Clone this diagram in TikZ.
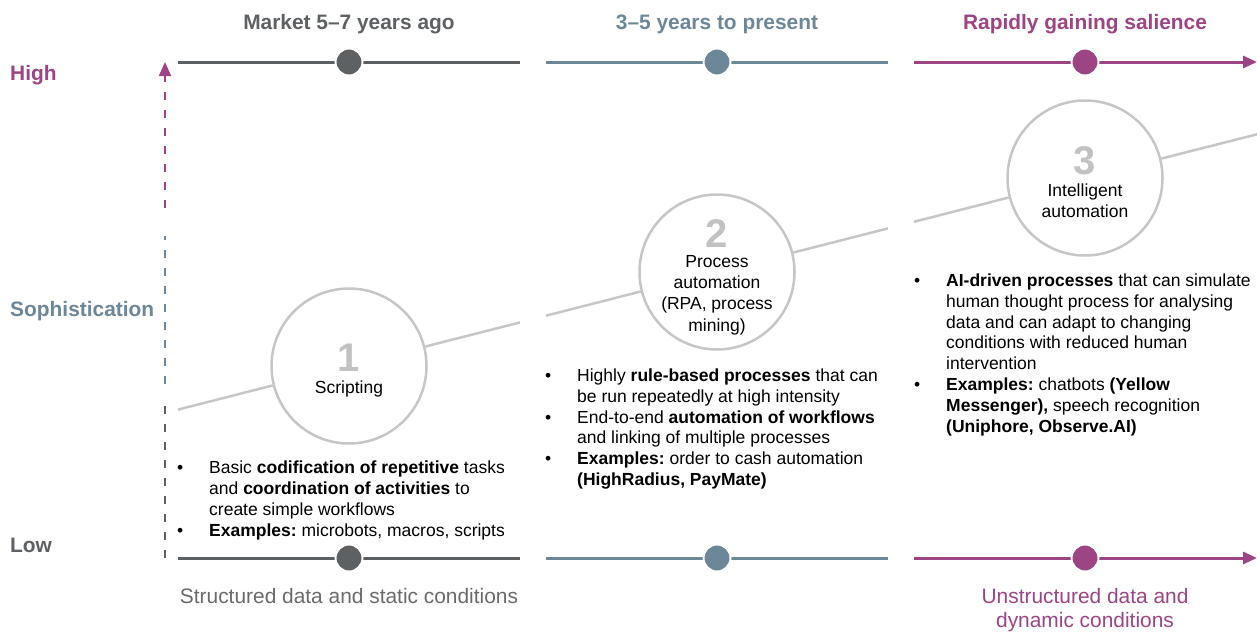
\documentclass[tikz,border=0pt]{standalone}
\usepackage{fontspec}
\setmainfont{Liberation Sans}
\usetikzlibrary{arrows.meta}
\frenchspacing

\definecolor{mgray}{HTML}{5E6163}
\definecolor{mblue}{HTML}{6C8798}
\definecolor{mpurple}{HTML}{9D4485}
\definecolor{lgray}{HTML}{C6C6C6}
\definecolor{ngray}{HTML}{C2C2C2}
\definecolor{tgray}{HTML}{6A6A6A}

\begin{document}
\begin{tikzpicture}[x=1pt,y=-1pt,
  header/.style={font=\fontsize{20.9}{24}\selectfont\bfseries, anchor=base, inner sep=0},
  axislbl/.style={font=\fontsize{20.9}{24}\selectfont\bfseries, anchor=base west, inner sep=0},
  foot/.style={font=\fontsize{20.9}{24}\selectfont, anchor=base, inner sep=0, align=center},
  track/.style={line width=3pt},
  tdot/.style={circle, minimum size=27pt, inner sep=0, draw=white, line width=2pt},
  vaxis/.style={line width=2pt, dash pattern=on 8pt off 10pt},
  tip/.style={-{Triangle[length=14pt,width=12pt]}},
  stage/.style={circle, draw=lgray, line width=2.5pt, minimum size=155pt, inner sep=0},
  ramp/.style={draw=lgray, line width=2.5pt},
  num/.style={font=\fontsize{40}{42}\selectfont\bfseries, text=ngray, anchor=base, inner sep=0},
  stagetxt/.style={font=\fontsize{17.5}{21.3}\selectfont, align=center, inner sep=0},
  bullets/.style={font=\fontsize{17.5}{20.8}\selectfont, anchor=north west, inner sep=0},
]
\useasboundingbox (0,0) rectangle (1257,632);

% column headings
\node[header, text=mgray]   (h1) at (349,29.5)  {Market 5–7 years ago};
\node[header, text=mblue]   (h2) at (717,29.5)  {3–5 years to present};
\node[header, text=mpurple] (h3) at (1085,29.5) {Rapidly gaining salience};

% sophistication scale labels
\node[axislbl, text=mpurple] (hi)  at (10,80.5)  {High};
\node[axislbl, text=mblue]   (mid) at (10,316.5) {Sophistication};
\node[axislbl, text=mgray]   (lo)  at (10,552.5) {Low};

% vertical dashed axis in three tones
\coordinate (v0) at (165,558);
\coordinate (v1) at (165,400);
\coordinate (v2) at (165,384);
\coordinate (v3) at (165,236);
\coordinate (v4) at (165,208);
\coordinate (v5) at (165,62);
\draw[vaxis, mgray] (v0) -- (v1);
\draw[vaxis, mblue] (v2) -- (v3);
\draw[vaxis, mpurple, tip] (v4) -- (v5);

% top and bottom timelines
\foreach \row/\yy in {t/62, b/558} {
  \coordinate (\row a0) at (178,\yy);
  \coordinate (\row a1) at (520,\yy);
  \coordinate (\row b0) at (546,\yy);
  \coordinate (\row b1) at (888,\yy);
  \coordinate (\row c0) at (914,\yy);
  \coordinate (\row c1) at (1257,\yy);
  \draw[track, mgray] (\row a0) -- (\row a1);
  \draw[track, mblue] (\row b0) -- (\row b1);
  \draw[track, mpurple, tip] (\row c0) -- (\row c1);
  \node[tdot, fill=mgray]   (\row d1) at (349,\yy)  {};
  \node[tdot, fill=mblue]   (\row d2) at (717,\yy)  {};
  \node[tdot, fill=mpurple] (\row d3) at (1085,\yy) {};
}

% rising ramp through the three stages
\node[stage] (c1) at (349,366) {};
\node[stage] (c2) at (717,272) {};
\node[stage] (c3) at (1085,178) {};
\coordinate (r0) at (178,409.6);
\coordinate (r1) at (520,322.4);
\coordinate (r2) at (546,315.7);
\coordinate (r3) at (888,228.4);
\coordinate (r4) at (914,221.8);
\coordinate (r5) at (1257,134.3);
\draw[ramp] (r0) -- (c1);
\draw[ramp] (c1) -- (r1);
\draw[ramp] (r2) -- (c2);
\draw[ramp] (c2) -- (r3);
\draw[ramp] (r4) -- (c3);
\draw[ramp] (c3) -- (r5);

% stage contents
\node[num] (n1) at (349,371.5) {1};
\node[stagetxt, anchor=base] (s1) at (349,393.3) {Scripting};
\node[num] (n2) at (717,247.5) {2};
\node[stagetxt] (s2) at (717,295) {Process\\automation\\(RPA, process\\mining)};
\node[num] (n3) at (1085,174.5) {3};
\node[stagetxt] (s3) at (1085,200.5) {Intelligent\\automation};

% descriptions
\node[bullets] (b1) at (177,459) {\begin{tabular}{@{}p{32pt}@{}l@{}}
\textbullet & Basic \textbf{codification of repetitive} tasks\\
 & and \textbf{coordination of activities} to\\
 & create simple workflows\\
\textbullet & \textbf{Examples:} microbots, macros, scripts
\end{tabular}};

\node[bullets] (b2) at (545,366.7) {\begin{tabular}{@{}p{32pt}@{}l@{}}
\textbullet & Highly \textbf{rule-based processes} that can\\
 & be run repeatedly at high intensity\\
\textbullet & End-to-end \textbf{automation of workflows}\\
 & and linking of multiple processes\\
\textbullet & \textbf{Examples:} order to cash automation\\
 & \textbf{(HighRadius, PayMate)}
\end{tabular}};

\node[bullets] (b3) at (914,271.7) {\begin{tabular}{@{}p{32pt}@{}l@{}}
\textbullet & \textbf{AI-driven processes} that can simulate\\
 & human thought process for analysing\\
 & data and can adapt to changing\\
 & conditions with reduced human\\
 & intervention\\
\textbullet & \textbf{Examples:} chatbots \textbf{(Yellow}\\
 & \textbf{Messenger),} speech recognition\\
 & \textbf{(Uniphore, Observe.AI)}
\end{tabular}};

% data characteristics along the bottom
\node[foot, text=tgray]   (f1) at (349,603.5)  {Structured data and static conditions};
\node[foot, text=mpurple] (f3) at (1085,627.5) {Unstructured data and\\dynamic conditions};
\end{tikzpicture}
\end{document}
